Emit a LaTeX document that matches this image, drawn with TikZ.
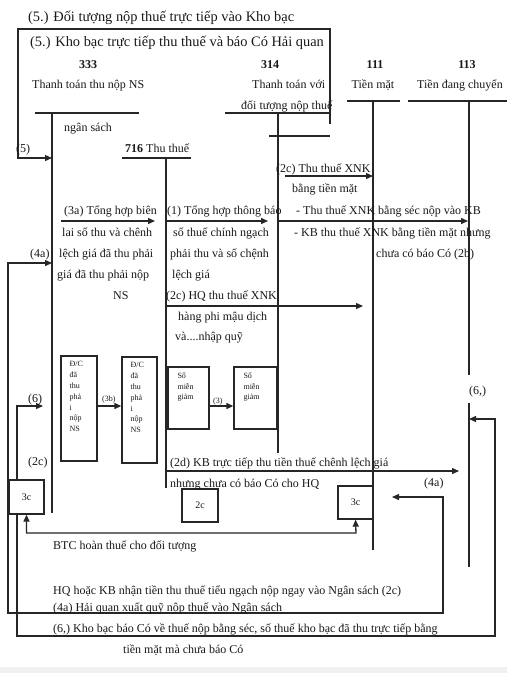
\documentclass[tikz,border=0pt]{standalone}
\usepackage{fontspec}
\setmainfont{Liberation Serif}
\usetikzlibrary{arrows.meta,calc}

\tikzset{
  ln/.style={line width=1.3pt, draw=black!85},
  flow/.style={ln, -{Triangle[length=7pt,width=6pt]}},
  both/.style={ln, {Triangle[length=7pt,width=6pt]}-{Triangle[length=7pt,width=6pt]}},
  txt/.style={inner sep=0pt, anchor=base west, text=black!90, font=\fontsize{12}{14}\selectfont},
  head/.style={txt, font=\fontsize{14.4}{16}\selectfont},
  num/.style={txt, anchor=base, font=\fontsize{12}{14}\selectfont\bfseries},
  tiny/.style={inner sep=0pt, anchor=north west, text=black!90, align=left, font=\fontsize{8}{10.8}\selectfont},
  box/.style={ln, rectangle, inner sep=0pt, text=black!90, font=\fontsize{10}{12}\selectfont}
}

\begin{document}
\begin{tikzpicture}[x=1pt,y=-1pt]
\fill[white] (0,0) rectangle (507,667);
\fill[black!6] (0,667) rectangle (507,673);
\useasboundingbox (0,0) rectangle (507,673);

% headings
\node[head] (h5a) at (28,21) {(5.) Đối tượng nộp thuế trực tiếp vào Kho bạc};
\node[head] (h5b) at (30,46) {(5.) Kho bạc trực tiếp thu thuế và báo Có Hải quan};

\node[num] (n333) at (88,68) {333};
\node[txt] (l333) at (32,88) {Thanh toán thu nộp NS};
\node[txt] (l333b) at (64,131) {ngân sách};
\node[num] (n314) at (270,68) {314};
\node[txt] (l314) at (252,88) {Thanh toán với};
\node[txt] (l314b) at (241,109) {đối tượng nộp thuế};
\node[num] (n111) at (375,68) {111};
\node[txt, anchor=base] (l111) at (373,88) {Tiền mặt};
\node[num] (n113) at (467,68) {113};
\node[txt, anchor=base] (l113) at (460,88) {Tiền đang chuyển};
\node[txt] (l716) at (125,152) {\textbf{716} Thu thuế};

% T accounts
\draw[ln] (35,113) -- (139,113) (52,113) -- (52,513);
\draw[ln] (122,158) -- (191,158) (166,158) -- (166,488);
\draw[ln] (225,113) -- (330,113) (278,113) -- (278,453) (269,136) -- (330,136);
\draw[ln] (347,101) -- (400,101) (373,101) -- (373,550);
\draw[ln] (408,101) -- (507,101) (469,101) -- (469,375) (469,403) -- (469,567);

% boxes
\node[box, minimum width=36pt, minimum height=105pt] (dc1) at (79,408.5) {};
\node[box, minimum width=35pt, minimum height=106pt] (dc2) at (139.5,410) {};
\node[tiny] (dc1t) at ([xshift=9pt,yshift=-6pt]dc1.north west) {Đ/C\\đã\\thu\\phả\\i\\nộp\\NS};
\node[tiny] (dc2t) at ([xshift=9pt,yshift=-6pt]dc2.north west) {Đ/C\\đã\\thu\\phả\\i\\nộp\\NS};
\node[box, minimum width=41pt, minimum height=62pt] (mg1) at (188.5,398) {};
\node[box, minimum width=43pt, minimum height=62pt] (mg2) at (255.5,398) {};
\node[tiny] (mg1t) at ([xshift=10pt,yshift=-6pt]mg1.north west) {Số\\miễn\\giảm};
\node[tiny] (mg2t) at ([xshift=10pt,yshift=-6pt]mg2.north west) {Số\\miễn\\giảm};
\node[box, minimum width=36pt, minimum height=33pt] (b2c) at (200,505.5) {2c};
\node[box, minimum width=35pt, minimum height=34pt] (b3cl) at (26.5,497) {3c};
\node[box, minimum width=35pt, minimum height=33pt] (b3cr) at (355.5,502.5) {3c};

% connectors
\coordinate (in5) at (52,158);
\draw[flow] (330,124) -- (330,29) -- (18,29) |- (in5);
\node[txt] (p5) at (16,152) {(5)};

\coordinate (c2a) at (285,176); \coordinate (c2b) at (373,176);
\draw[flow] (c2a) -- (c2b);
\node[txt] (p2c) at (276,172) {(2c) Thu thuế XNK};
\node[txt] (p2cb) at (292,192) {bằng tiền mặt};

\coordinate (a3a) at (61,221); \coordinate (b3a) at (155,221);
\draw[flow] (a3a) -- (b3a);
\node[txt] (p3a1) at (64,214) {(3a) Tổng hợp biên};
\node[txt] (p3a2) at (62,236) {lai số thu và chênh};
\node[txt] (p3a3) at (59,257) {lệch giá đã thu phải};
\node[txt] (p3a4) at (57,278) {giá đã thu phải nộp};
\node[txt] (p3a5) at (113,299) {NS};

\coordinate (a1) at (166,221); \coordinate (b1) at (268,221);
\draw[flow] (a1) -- (b1);
\node[txt] (p11) at (167,214) {(1) Tổng hợp thông báo};
\node[txt] (p12) at (173,236) {số thuế chính ngạch};
\node[txt] (p13) at (170,257) {phải thu và số chệnh};
\node[txt] (p14) at (172,278) {lệch giá};

\coordinate (a2b) at (278,221); \coordinate (b2b) at (468,221);
\draw[flow] (a2b) -- (b2b);
\node[txt] (p2b1) at (296,214) {- Thu thuế XNK bằng séc nộp vào KB};
\node[txt] (p2b2) at (294,236) {- KB thu thuế XNK bằng tiền mặt nhưng};
\node[txt] (p2b3) at (376,257) {chưa có báo Có (2b)};

\coordinate (a2h) at (166,306); \coordinate (b2h) at (363,306);
\draw[flow] (a2h) -- (b2h);
\node[txt] (p2h1) at (166,299) {(2c) HQ thu thuế XNK};
\node[txt] (p2h2) at (178,320) {hàng phi mậu dịch};
\node[txt] (p2h3) at (175,340) {và....nhập quỹ};

\coordinate (a2d) at (166,471); \coordinate (b2d) at (459,471);
\draw[flow] (a2d) -- (b2d);
\node[txt] (p2d1) at (170,466) {(2d) KB trực tiếp thu tiền thuế chênh lệch giá};
\node[txt] (p2d2) at (170,487) {nhưng chưa có báo Có cho HQ};

\draw[flow] (dc1.east |- 0,406) -- (dc2.west |- 0,406);
\node[txt, font=\fontsize{8}{9}\selectfont] (p3b) at (102,401) {(3b)};
\draw[flow] (mg1.east |- 0,406) -- (mg2.west |- 0,406);
\node[txt, font=\fontsize{8}{9}\selectfont] (p3) at (213,403) {(3)};

% (6) and (6,)
\coordinate (in6) at (43,406);
\draw[flow] ([xshift=-9.5pt]b3cl.north) |- (in6);
\node[txt] (p6) at (28,402) {(6)};
\node[txt] (p2cl) at (28,465) {(2c)};
\coordinate (in6r) at (469,419);
\draw[flow] ([xshift=-9.5pt]b3cl.south) |- (495,636) |- (in6r);
\node[txt] (p6r) at (469,394) {(6,)};

% (4a)
\coordinate (in4a) at (52,263); \coordinate (out4a) at (392,497);
\draw[both] (out4a) -| (443,613) -| (8,263) -- (in4a);
\node[txt] (p4a) at (30,257) {(4a)};
\node[txt] (p4ar) at (424,486) {(4a)};

% BTC
\draw[both] (b3cl.south) |- (356,533) -- (b3cr.south);
\node[txt] (pbtc) at (53,549) {BTC hoàn thuế cho đối tượng};

% notes
\node[txt] (nt1) at (53,594) {HQ hoặc KB nhận tiền thu thuế tiểu ngạch nộp ngay vào Ngân sách (2c)};
\node[txt] (nt2) at (53,611) {(4a) Hải quan xuất quỹ nộp thuế vào Ngân sách};
\node[txt] (nt3) at (53,632) {(6,) Kho bạc báo Có về thuế nộp bằng séc, số thuế kho bạc đã thu trực tiếp bằng};
\node[txt] (nt4) at (123,653) {tiền mặt mà chưa báo Có};
\end{tikzpicture}
\end{document}
